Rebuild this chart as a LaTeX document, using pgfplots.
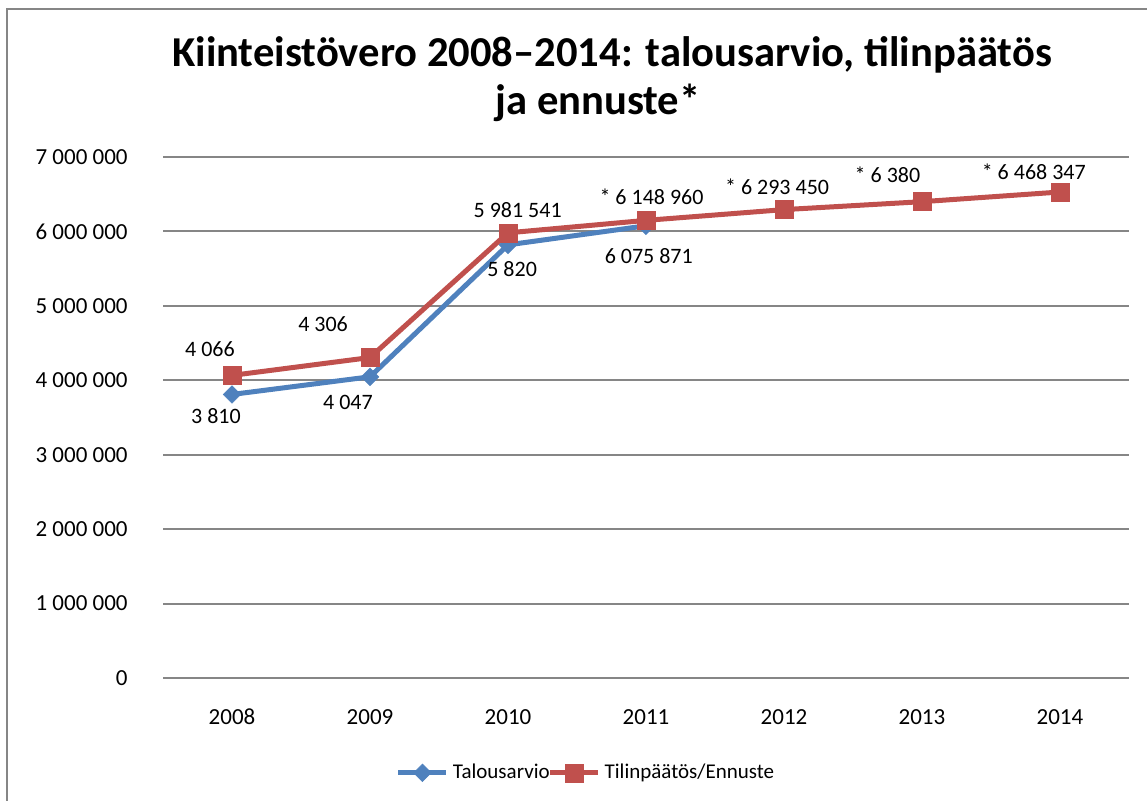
\documentclass[border=0pt]{standalone}
\usepackage{fontspec}
\setmainfont{Carlito}
\usepackage{pgfplots}
\pgfplotsset{compat=1.18}
\definecolor{serA}{HTML}{4F81BD}
\definecolor{serB}{HTML}{C0504D}
\definecolor{gridc}{HTML}{868686}
\newcommand{\lbl}{\fontsize{11}{13}\selectfont}
\begin{document}
\begin{tikzpicture}
\useasboundingbox (0,0) rectangle (573.5pt,-400pt);
\draw[gridc, line width=1.2pt] (3.5pt,-410pt) -- (3.5pt,-4.5pt) -- (590pt,-4.5pt);
\node[font=\bfseries\fontsize{21.3}{25}\selectfont, inner sep=0pt] at (306pt,-27.5pt) {Kiinteistövero 2008–2014: talousarvio, tilinpäätös};
\node[font=\bfseries\fontsize{21.3}{25}\selectfont, inner sep=0pt] at (299pt,-51.5pt) {ja ennuste*};
\begin{axis}[
  at={(81.5pt,-339pt)}, anchor=south west,
  width=483pt, height=260.5pt, scale only axis,
  xmin=-0.5, xmax=6.5, ymin=0, ymax=7000000,
  axis line style={draw=none},
  major tick length=0pt,
  tick style={draw=none},
  ymajorgrids, major grid style={gridc, line width=1pt},
  xtick={0,1,2,3,4,5,6},
  xticklabels={2008,2009,2010,2011,2012,2013,2014},
  ytick={0,1000000,2000000,3000000,4000000,5000000,6000000,7000000},
  yticklabels={0,1 000 000,2 000 000,3 000 000,4 000 000,5 000 000,6 000 000,7 000 000},
  yticklabel style={font=\fontsize{11.5}{13}\selectfont, anchor=east, inner sep=0pt, xshift=-17.5pt},
  xticklabel style={font=\fontsize{11.5}{13}\selectfont, anchor=north, inner sep=0pt, yshift=-15.4pt},
  scaled y ticks=false,
  legend columns=2,
  legend style={at={(0.439,-0.182)}, anchor=center, draw=none, fill=none,
    font=\fontsize{10.5}{12}\selectfont,
    /tikz/every even column/.append style={column sep=-3pt}},
  legend image code/.code={\draw[mark repeat=2,mark phase=2,#1] plot coordinates {(0pt,0pt)(12pt,0pt)(24pt,0pt)};},
]
\addplot[serA, line width=2.5pt, mark=square*, mark size=3.1pt, mark options={rotate=45, line width=0.3pt}]
  coordinates {(0,3810000)(1,4047000)(2,5820000)(3,6075871)};
\addlegendentry{Talousarvio}
\addplot[serB, line width=2.5pt, mark=square*, mark size=4.5pt, mark options={line width=0.3pt}]
  coordinates {(0,4066000)(1,4306000)(2,5981541)(3,6148960)(4,6293450)(5,6400000)(6,6530000)};
\addlegendentry{Tilinpäätös/Ennuste}
\node[font=\lbl] at (axis cs:-0.16,4420000) {4 066};
\node[font=\lbl] at (axis cs:-0.116,3520000) {3 810};
\node[font=\lbl] at (axis cs:0.66,4750000) {4 306};
\node[font=\lbl] at (axis cs:0.84,3700000) {4 047};
\node[font=\lbl] at (axis cs:2.07,6290000) {5 981 541};
\node[font=\lbl] at (axis cs:2.03,5500000) {5 820};
\node[font=\lbl] at (axis cs:3.04,6460000) {* 6 148 960};
\node[font=\lbl] at (axis cs:3.02,5670000) {6 075 871};
\node[font=\lbl] at (axis cs:3.95,6600000) {* 6 293 450};
\node[font=\lbl] at (axis cs:4.75,6760000) {* 6 380};
\node[font=\lbl] at (axis cs:5.81,6800000) {* 6 468 347};
\end{axis}
\end{tikzpicture}
\end{document}
